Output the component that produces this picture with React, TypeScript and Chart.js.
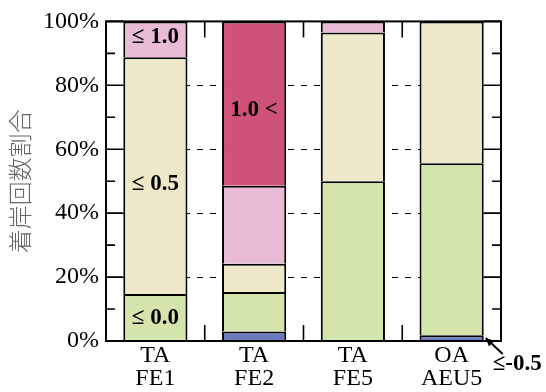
import React, { useEffect, useRef } from "react";
import { Chart, registerables } from "chart.js";
Chart.register(...registerables);

const categories = [["TA", "FE1"], ["TA", "FE2"], ["TA", "FE5"], ["OA", "AEU5"]];
const seriesNames = ["≤ -0.5", "≤ 0.0", "≤ 0.5", "≤ 1.0", "1.0 <"];
const leMinus05 = [null, 3.0, null, 1.8];
const le00 = [14.7, 12.3, 50.0, 53.8];
const le05 = [74.1, 8.9, 46.5, 44.4];
const le10 = [11.2, 24.4, 3.5, null];
const gt10 = [null, 51.4, null, null];
const majorTicks = [0, 20, 40, 60, 80, 100];
const minorTicks = [10, 30, 50, 70, 90];
const gridValues = [20, 40, 60, 80];
const seriesColors = ["#6a7cbf", "#d4e5ab", "#ece8c8", "#eabbd5", "#cf5377"];
// in-bar labels: [dataset, category, text, vertical nudge]
const barLabels: [number, number, string, number][] = [
  [1, 0, "≤ 0.0", 1],
  [2, 0, "≤ 0.5", 8],
  [3, 0, "≤ 1.0", -2],
  [4, 1, "1.0 <", 7],
];
const calloutLabel = "≤-0.5";

const SERIF = "'Liberation Serif', 'Times New Roman', serif";

const decorPlugin = {
  id: "decor",
  beforeDatasetsDraw(chart: any) {
    const { ctx, chartArea: a, scales } = chart;
    const y = scales.y;
    ctx.save();
    ctx.strokeStyle = "#000";
    ctx.lineWidth = 1;
    ctx.setLineDash([6, 7]);
    for (const v of gridValues) {
      const py = Math.round(y.getPixelForValue(v)) + 0.5;
      ctx.beginPath();
      ctx.moveTo(a.left, py);
      ctx.lineTo(a.right, py);
      ctx.stroke();
    }
    ctx.restore();
  },
  afterDatasetsDraw(chart: any) {
    const { ctx, chartArea: a, scales } = chart;
    const y = scales.y;
    const x = scales.x;
    ctx.save();
    ctx.strokeStyle = "#000";
    ctx.lineWidth = 1.6;
    ctx.setLineDash([]);
    const tick = (v: number, len: number) => {
      const py = y.getPixelForValue(v);
      ctx.beginPath();
      ctx.moveTo(a.left, py);
      ctx.lineTo(a.left + len, py);
      ctx.moveTo(a.right, py);
      ctx.lineTo(a.right - len, py);
      ctx.stroke();
    };
    majorTicks.forEach((v) => tick(v, 17));
    minorTicks.forEach((v) => tick(v, 9));
    for (let i = 0; i < categories.length - 1; i++) {
      const px = (x.getPixelForValue(i) + x.getPixelForValue(i + 1)) / 2;
      ctx.beginPath();
      ctx.moveTo(px, a.bottom);
      ctx.lineTo(px, a.bottom - 16);
      ctx.moveTo(px, a.top);
      ctx.lineTo(px, a.top + 16);
      ctx.stroke();
    }
    ctx.lineWidth = 2;
    ctx.strokeRect(a.left, a.top, a.right - a.left, a.bottom - a.top);

    ctx.fillStyle = "#000";
    ctx.font = `bold 23px ${SERIF}`;
    ctx.textAlign = "center";
    ctx.textBaseline = "middle";
    for (const [ds, idx, text, dy] of barLabels) {
      const el = chart.getDatasetMeta(ds).data[idx];
      if (!el) continue;
      const cy = (el.y + el.base) / 2;
      ctx.fillText(text, el.x, cy + dy);
    }

    const meta0 = chart.getDatasetMeta(0).data[3];
    if (meta0) {
      const cx = meta0.x + meta0.width / 2;
      const cyb = meta0.base;
      const hx = cx + 2, hy = cyb - 3;
      const tx = hx + 17, ty = hy + 16;
      ctx.lineWidth = 2;
      ctx.beginPath();
      ctx.moveTo(tx, ty);
      ctx.lineTo(hx, hy);
      ctx.stroke();
      const ang = Math.atan2(hy - ty, hx - tx);
      ctx.beginPath();
      ctx.moveTo(hx, hy);
      ctx.lineTo(hx - 9 * Math.cos(ang - 0.45), hy - 9 * Math.sin(ang - 0.45));
      ctx.lineTo(hx - 9 * Math.cos(ang + 0.45), hy - 9 * Math.sin(ang + 0.45));
      ctx.closePath();
      ctx.fill();
      ctx.textAlign = "left";
      ctx.fillText(calloutLabel, hx + 7, hy + 26);
    }
    ctx.restore();
  },
};

export default function App() {
  const ref = useRef<HTMLCanvasElement>(null);
  useEffect(() => {
    if (!ref.current) return;
    const series = [leMinus05, le00, le05, le10, gt10];
    const chart = new Chart(ref.current, {
      type: "bar",
      data: {
        labels: categories as any,
        datasets: series.map((d, i) => ({
          label: seriesNames[i],
          data: d as any,
          backgroundColor: seriesColors[i],
          borderColor: "#000",
          borderWidth: 2,
          borderSkipped: "bottom",
          barPercentage: 0.65,
          categoryPercentage: 1,
        })),
      },
      options: {
        animation: false,
        responsive: true,
        maintainAspectRatio: false,
        layout: { padding: { left: 0, top: 16, right: 45, bottom: 0 } },
        plugins: { legend: { display: false }, tooltip: { enabled: false } },
        scales: {
          x: {
            stacked: true,
            grid: { display: false, drawTicks: false },
            border: { display: false },
            ticks: {
              color: "#000",
              font: { family: SERIF, size: 24, lineHeight: 0.96 },
              padding: 3,
              maxRotation: 0,
            },
            afterFit: (s: any) => {
              s.height = 51;
            },
          },
          y: {
            stacked: true,
            min: 0,
            max: 100,
            grid: { display: false, drawTicks: false },
            border: { display: false },
            ticks: {
              stepSize: 20,
              color: "#000",
              font: { family: SERIF, size: 24 },
              padding: 7,
              callback: (v: any) => v + "%",
            },
            title: {
              display: true,
              text: "着岸回数割合",
              color: "#666",
              font: { family: "'Noto Sans CJK JP', sans-serif", size: 24, weight: 300, lineHeight: 1.2 },
              padding: { top: 5, bottom: 0 },
            },
            afterFit: (s: any) => {
              s.width = 106;
            },
          },
        },
      },
      plugins: [decorPlugin],
    });
    return () => chart.destroy();
  }, []);
  return (
    <div style={{ position: "absolute", left: 0, top: 0, width: 546, height: 392 }}>
      <canvas ref={ref} />
    </div>
  );
}
